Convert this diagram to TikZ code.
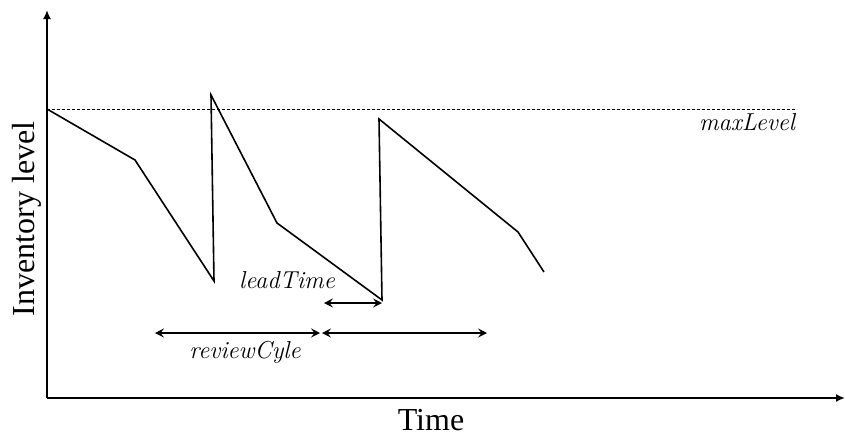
\documentclass[tikz,border=0pt]{standalone}
\usepackage{fontspec}
\setmainfont{Liberation Serif}
\usetikzlibrary{arrows.meta}
\begin{document}
\begin{tikzpicture}[x=1pt,y=-1pt,
  axis/.style={line width=2pt,-{Latex[length=9pt,width=8pt]}},
  stock/.style={line width=1.6pt,line join=miter},
  span/.style={line width=1.2pt,{Stealth[length=9pt,width=9pt,inset=3.5pt]}-{Stealth[length=9pt,width=9pt,inset=3.5pt]}},
  lbl/.style={inner sep=0pt,font=\fontfamily{lmr}\fontsize{24.5}{26}\selectfont\itshape},
  axlbl/.style={inner sep=0pt,font=\fontsize{32}{34}\selectfont}]
\useasboundingbox (0,0) rectangle (845,439);
% axes
\coordinate (o) at (47,398);
\coordinate (ytop) at (47,10);
\coordinate (xend) at (845,398);
\draw[axis] (o) -- (ytop);
\draw[axis] (o) -- (xend);
% maximum level
\coordinate (m0) at (47,109);
\coordinate (m1) at (797,109);
\draw[dashed,line width=0.6pt,dash pattern=on 3pt off 2pt] (m0) -- (m1);
\node[lbl] (maxl) at (747,122) {maxLevel};
% inventory curve
\coordinate (p0) at (47,109);
\coordinate (p1) at (135,160);
\coordinate (p2) at (214,281);
\coordinate (p3) at (211,95);
\coordinate (p4) at (277,223);
\coordinate (p5) at (382,300);
\coordinate (p6) at (379,119);
\coordinate (p7) at (518,232);
\coordinate (p8) at (544,272);
\draw[stock] (p0) -- (p1) -- (p2) -- (p3) -- (p4) -- (p5) -- (p6) -- (p7) -- (p8);
% lead time
\coordinate (lt0) at (324,303);
\coordinate (lt1) at (382,303);
\draw[span] (lt0) -- (lt1);
\node[lbl] (lead) at (287,280) {leadTime};
% review cycles
\coordinate (r0) at (155,333);
\coordinate (r1) at (320,333);
\coordinate (r2) at (322,333);
\coordinate (r3) at (487,333);
\draw[span] (r0) -- (r1);
\draw[span] (r2) -- (r3);
\node[lbl] (rev) at (245,352) {reviewCyle};
% axis labels
\node[axlbl,rotate=90] (ylab) at (27,219) {Inventory level};
\node[axlbl] (xlab) at (431,420) {Time};
\end{tikzpicture}
\end{document}
